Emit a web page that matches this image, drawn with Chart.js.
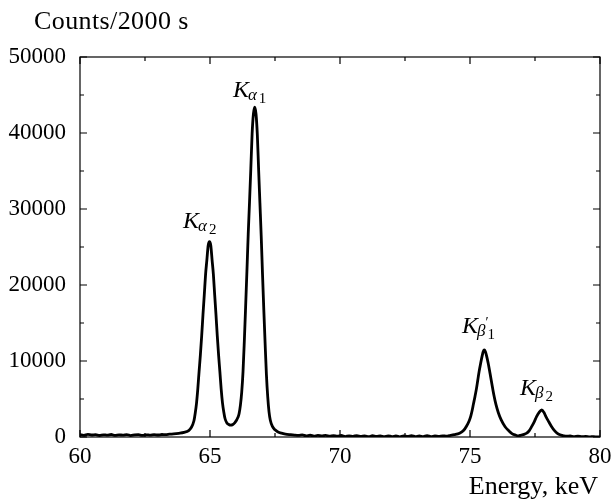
<!DOCTYPE html>
<html>
<head>
<meta charset="utf-8">
<script src="https://cdn.jsdelivr.net/npm/chart.js@4"></script>
<style>
  html, body { margin: 0; padding: 0; background: #fff; }
  #wrap { width: 613px; height: 501px; }
</style>
</head>
<body>
<div id="wrap"><canvas id="spectrum" width="613" height="501"></canvas></div>
<script>
// energy (keV) and counts
const energy = [
  60.0, 60.15, 60.3, 60.45, 60.6, 60.75, 60.9, 61.05, 61.2, 61.35, 61.5, 61.65, 61.8, 61.95,
  62.1, 62.25, 62.4, 62.55, 62.7, 62.85, 63.0, 63.15, 63.3, 63.45, 63.6, 63.8, 64.0,
  64.18, 64.28, 64.38, 64.43, 64.48, 64.53, 64.58, 64.63, 64.68, 64.73, 64.78, 64.83, 64.88, 64.93,
  64.98, 65.03, 65.08, 65.13, 65.18, 65.23, 65.28, 65.33, 65.38, 65.43, 65.48, 65.53, 65.58,
  65.65, 65.72, 65.8, 65.88, 65.95, 66.02, 66.07, 66.12, 66.17, 66.22, 66.27, 66.32, 66.37,
  66.42, 66.47, 66.52, 66.57, 66.62, 66.67, 66.72, 66.77, 66.82, 66.87, 66.92, 66.97, 67.02,
  67.07, 67.12, 67.17, 67.22, 67.27, 67.32, 67.4, 67.5, 67.6, 67.75, 67.9, 68.1, 68.25,
  68.4, 68.55, 68.7, 68.85, 69.0, 69.15, 69.3, 69.45, 69.6, 69.75, 69.9, 70.05, 70.2, 70.35,
  70.5, 70.65, 70.8, 70.95, 71.1, 71.25, 71.4, 71.55, 71.7, 71.85, 72.0, 72.15, 72.3, 72.45,
  72.6, 72.75, 72.9, 73.05, 73.2, 73.35, 73.5, 73.65, 73.8, 73.95, 74.1,
  74.2, 74.4, 74.6, 74.75, 74.87, 74.97, 75.03, 75.08, 75.13, 75.19, 75.25, 75.3, 75.35, 75.41,
  75.47, 75.51, 75.55, 75.59, 75.64, 75.7, 75.81, 75.92, 76.0, 76.09, 76.2,
  76.35, 76.5, 76.6, 76.75,
  76.86, 76.97, 77.08, 77.18, 77.28, 77.37, 77.47, 77.56, 77.66, 77.76, 77.84, 77.92, 78.03,
  78.14, 78.25, 78.36, 78.5, 78.6, 78.72, 78.85, 79.0, 79.15, 79.3, 79.45, 79.6, 79.75, 79.9, 80.0
];
const counts = [
  300, 220, 340, 260, 310, 200, 290, 240, 330, 210, 280, 250, 320, 190,
  270, 300, 220, 290, 240, 310, 260, 330, 300, 370, 400, 480, 600,
  850, 1250, 2100, 3100, 4400, 6300, 8600, 10800, 13300, 16100, 18700, 21400, 23300, 25200,
  25700, 25200, 23300, 21400, 18700, 16100, 13300, 10800, 8600, 6300, 4500, 3300, 2400,
  1850, 1650, 1560, 1650, 1850, 2200, 2550, 3100, 4200, 5900, 8600, 12600, 17100,
  21800, 26700, 30900, 35300, 39900, 42500, 43400, 42500, 39800, 35200, 30800, 26400, 21400,
  16700, 12300, 8200, 5300, 3300, 2200, 1400, 950, 700, 500, 380, 300, 250,
  220, 280, 150, 230, 120, 210, 140, 220, 100, 180, 120, 200, 60, 160,
  90, 190, 70, 150, 40, 170, 90, 140, 30, 160, 60, 130, 20, 150,
  70, 180, 40, 140, 60, 170, 50, 130, 80, 160, 110,
  170, 300, 500, 850, 1450, 2150, 2750, 3450, 4300, 5300, 6400, 7500, 8600, 9700,
  10700, 11250, 11450, 11250, 10650, 9700, 7600, 5500, 4250, 3200, 2250,
  1350, 800, 480, 250,
  150, 250, 350, 500, 850, 1360, 2000, 2670, 3250, 3550, 3250, 2670, 2000,
  1360, 850, 480, 250, 160, 100, 140, 40, 120, 30, 90, 10, 60, 0, 20
];

const xTicks = [60, 65, 70, 75, 80];
const yTicks = [0, 10000, 20000, 30000, 40000, 50000];

// peak labels: greek letter, index, prime, anchor (energy, counts)
const peakGreek = ['α', 'α', 'β', 'β'];
const peakIndex = ['2', '1', '1', '2'];
const peakPrime = [false, false, true, false];
const peakE = [63.96, 65.88, 74.69, 76.92];
const peakC = [27500, 44700, 13700, 5500];

const serif = '"Liberation Serif", "DejaVu Serif", serif';

const framePlugin = {
  id: 'frame',
  afterDraw(chart) {
    const { ctx, chartArea: a, scales: { x, y } } = chart;
    ctx.save();
    ctx.strokeStyle = '#000';
    ctx.lineWidth = 1.2;
    ctx.strokeRect(a.left, a.top, a.right - a.left, a.bottom - a.top);

    ctx.beginPath();
    for (let v = 60; v <= 80; v += 2.5) {
      const px = x.getPixelForValue(v);
      const len = v % 5 === 0 ? 7 : 4;
      ctx.moveTo(px, a.bottom); ctx.lineTo(px, a.bottom - len);
      ctx.moveTo(px, a.top); ctx.lineTo(px, a.top + len);
    }
    for (let v = 0; v <= 50000; v += 5000) {
      const py = y.getPixelForValue(v);
      const len = v % 10000 === 0 ? 7 : 4;
      ctx.moveTo(a.left, py); ctx.lineTo(a.left + len, py);
      ctx.moveTo(a.right, py); ctx.lineTo(a.right - len, py);
    }
    ctx.stroke();

    ctx.fillStyle = '#000';
    ctx.textBaseline = 'alphabetic';
    ctx.font = '26px ' + serif;
    ctx.letterSpacing = '0.4px';
    ctx.textAlign = 'left';
    ctx.fillText('Counts/2000 s', 34, 29);
    ctx.letterSpacing = '0px';
    ctx.textAlign = 'right';
    ctx.fillText('Energy, keV', 598, 494);

    ctx.textAlign = 'left';
    peakGreek.forEach((g, i) => {
      const px = x.getPixelForValue(peakE[i]);
      const py = y.getPixelForValue(peakC[i]);
      ctx.font = 'italic 24px ' + serif;
      ctx.fillText('K', px, py);
      let cx = px + ctx.measureText('K').width - 1;
      ctx.font = 'italic 17px ' + serif;
      ctx.fillText(g, cx, py + 3);
      const gw = ctx.measureText(g).width;
      if (peakPrime[i]) {
        ctx.font = '14px ' + serif;
        ctx.fillText('′', cx + gw, py - 6);
      }
      cx += gw + 2;
      ctx.font = '15px ' + serif;
      ctx.fillText(peakIndex[i], cx, py + 6);
    });
    ctx.restore();
  }
};

new Chart(document.getElementById('spectrum'), {
  type: 'line',
  data: {
    datasets: [{
      data: energy.map((e, i) => ({ x: e, y: counts[i] })),
      borderColor: '#000',
      borderWidth: 2.8,
      pointRadius: 0,
      cubicInterpolationMode: 'monotone',
      fill: false
    }]
  },
  options: {
    responsive: false,
    animation: false,
    layout: { padding: { top: 57, right: 13, left: 0, bottom: 0 } },
    plugins: { legend: { display: false }, tooltip: { enabled: false } },
    scales: {
      x: {
        type: 'linear', min: 60, max: 80,
        afterBuildTicks: s => { s.ticks = xTicks.map(v => ({ value: v })); },
        afterFit: s => { s.height = 64; s.paddingLeft = 0; s.paddingRight = 0; },
        grid: { display: false, drawTicks: false }, border: { display: false },
        ticks: { color: '#000', padding: 6, maxRotation: 0, font: { family: serif, size: 23 }, callback: v => String(v) }
      },
      y: {
        type: 'linear', min: 0, max: 50000,
        afterBuildTicks: s => { s.ticks = yTicks.map(v => ({ value: v })); },
        afterFit: s => { s.width = 80; s.paddingTop = 0; s.paddingBottom = 0; },
        grid: { display: false, drawTicks: false }, border: { display: false },
        ticks: { color: '#000', padding: 14, font: { family: serif, size: 23 }, callback: v => String(v) }
      }
    }
  },
  plugins: [framePlugin]
});
</script>
</body>
</html>
